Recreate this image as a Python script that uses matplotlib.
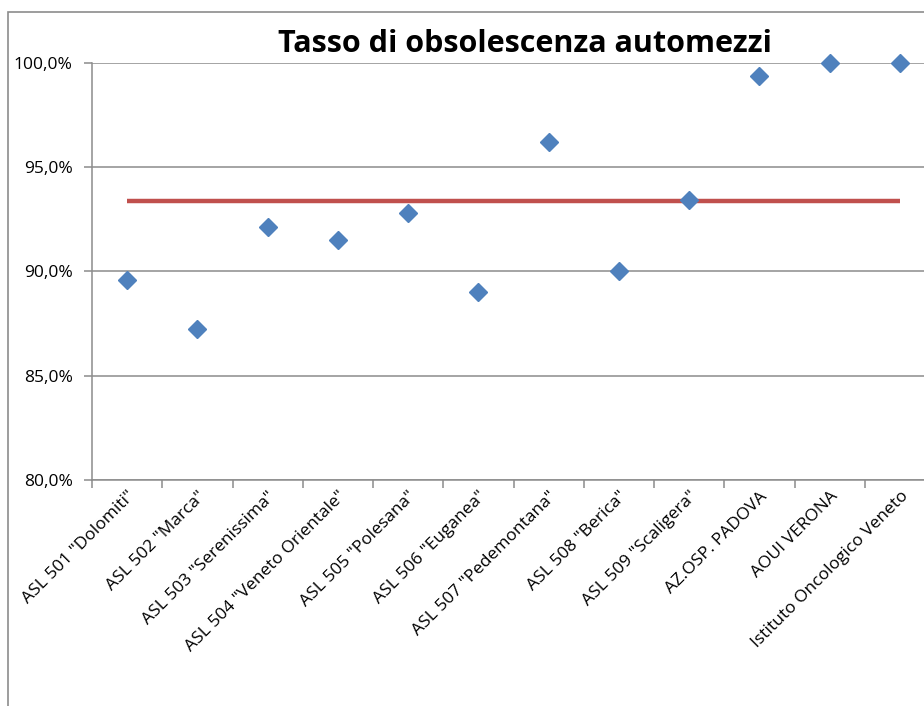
import matplotlib
matplotlib.use("Agg")
import matplotlib.pyplot as plt
from matplotlib.ticker import FuncFormatter, FixedLocator
from matplotlib.patches import Rectangle

categories = ['ASL 501 "Dolomiti"', 'ASL 502 "Marca"', 'ASL 503 "Serenissima"',
              'ASL 504 "Veneto Orientale"', 'ASL 505 "Polesana"', 'ASL 506 "Euganea"',
              'ASL 507 "Pedemontana"', 'ASL 508 "Berica"', 'ASL 509 "Scaligera"',
              'AZ.OSP. PADOVA', 'AOUI VERONA', 'Istituto Oncologico Veneto']
values = [89.6, 87.25, 92.15, 91.5, 92.8, 89.0, 96.2, 90.0, 93.45, 99.4, 100.0, 100.0]
average = 93.4
title = "Tasso di obsolescenza automezzi"
y_ticks = [80, 85, 90, 95, 100]

plt.rcParams['font.family'] = ['Open Sans', 'DejaVu Sans']

W, H = 924, 706
fig = plt.figure(figsize=(W / 100, H / 100), dpi=100)

# chart border (bottom and right edges fall outside the picture)
fig.patches.append(Rectangle((8 / W, -0.1), 1.2, 1.1 - 12 / H,
                             transform=fig.transFigure, fill=False,
                             edgecolor='#8c8c8c', linewidth=1.2))

left, right = 92, 935
top, bottom = 63, 480
ax = fig.add_axes([left / W, 1 - bottom / H, (right - left) / W, (bottom - top) / H])

n = len(categories)
x = list(range(n))
ax.set_xlim(-0.5, n - 0.5)
ax.set_ylim(80, 100)

ax.plot([x[0], x[-1]], [average, average], color='#C0504D', linewidth=3.2,
        solid_capstyle='butt', zorder=3)
ax.plot(x, values, linestyle='none', marker='D', markersize=9,
        color='#4F81BD', markeredgecolor='#4F81BD', zorder=4, clip_on=False)

ax.set_yticks(y_ticks)
ax.yaxis.set_major_formatter(FuncFormatter(lambda v, p: f"{v:.1f}%".replace('.', ',')))
ax.grid(axis='y', color='#8c8c8c', linewidth=1.1)
ax.set_axisbelow(True)

ax.xaxis.set_major_locator(FixedLocator(x))
ax.set_xticklabels(categories, rotation=45, ha='right', rotation_mode='anchor',
                   fontsize=12.5)
ax.xaxis.set_minor_locator(FixedLocator([i - 0.5 for i in range(n + 1)]))
ax.tick_params(axis='x', which='major', length=0, pad=6)
ax.tick_params(axis='x', which='minor', length=6, color='#8c8c8c', width=1.1)
ax.tick_params(axis='y', length=6, color='#8c8c8c', width=1.1, labelsize=12.5, pad=8)

for s in ['top', 'right']:
    ax.spines[s].set_visible(False)
for s in ['left', 'bottom']:
    ax.spines[s].set_color('#8c8c8c')
    ax.spines[s].set_linewidth(1.1)

fig.text(525 / W, 1 - 44 / H, title, ha='center', va='center',
         fontsize=22, fontweight='bold', family=['Open Sans', 'DejaVu Sans'])

fig.savefig("out.png", dpi=100)
